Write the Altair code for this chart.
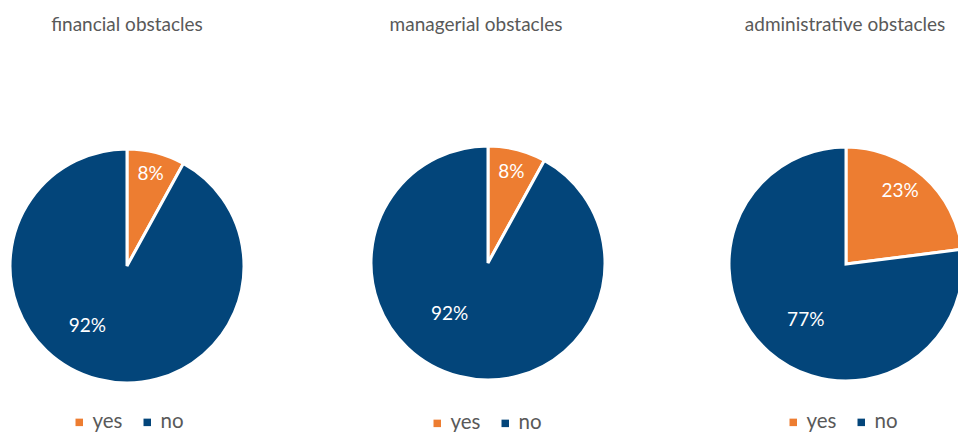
import altair as alt
import pandas as pd

titles = ["financial obstacles", "managerial obstacles", "administrative obstacles"]
answers = ["yes", "no"]
yes_pct = [8, 8, 23]
no_pct = [92, 92, 77]

ORANGE = "#ED7D31"
NAVY = "#03457A"
GRAY = "#595959"
FONT = "Lato"

# layout per panel: width, pie center, title x, legend x/y, label radii and theta offsets
layout = [
    dict(w=254, cx=127, cy=266, tx=127, lx=69, ly=412, ry=95, oy=0.0, rn=72, on=0.33),
    dict(w=468, cx=234, cy=263, tx=222, lx=173, ly=413, ry=94, oy=0.0, rn=64, on=0.39),
    dict(w=236, cx=124, cy=264, tx=123, lx=61, ly=412, ry=91, oy=-0.085, rn=69, on=-0.10),
]


def panel(i):
    L = layout[i]
    df = pd.DataFrame({
        "answer": answers,
        "value": [yes_pct[i], no_pct[i]],
        "order": [0, 1],
        "title": [titles[i], titles[i]],
    })
    df["label"] = df["value"].astype(str) + "%"
    base = alt.Chart(df).encode(
        theta=alt.Theta("value:Q", stack=True),
        order=alt.Order("order:Q"),
    )
    arc = base.mark_arc(outerRadius=117, stroke="white", strokeWidth=3, clip=True).encode(
        x=alt.value(L["cx"]),
        y=alt.value(L["cy"]),
        color=alt.Color(
            "answer:N",
            scale=alt.Scale(domain=answers, range=[ORANGE, NAVY]),
            legend=alt.Legend(
                orient="none", legendX=L["lx"], legendY=L["ly"], direction="horizontal",
                title=None, symbolType="square", symbolSize=56, symbolStrokeWidth=0,
                labelFont=FONT, labelFontSize=20.5, labelColor=GRAY, labelOffset=3,
                columnPadding=14, padding=0,
            ),
        ),
    )
    yes_lbl = base.mark_text(radius=L["ry"], thetaOffset=L["oy"], font=FONT, fontSize=19, color="white").encode(
        x=alt.value(L["cx"]),
        y=alt.value(L["cy"]),
        text=alt.condition("datum.answer == 'yes'", alt.Text("label:N"), alt.value("")),
    )
    no_lbl = base.mark_text(radius=L["rn"], thetaOffset=L["on"], font=FONT, fontSize=19, color="white").encode(
        x=alt.value(L["cx"]),
        y=alt.value(L["cy"]),
        text=alt.condition("datum.answer == 'no'", alt.Text("label:N"), alt.value("")),
    )
    ttl = alt.Chart(df.head(1)).mark_text(font=FONT, fontSize=19, color=GRAY).encode(
        x=alt.value(L["tx"]),
        y=alt.value(25),
        text="title:N",
    )
    return alt.layer(arc, yes_lbl, no_lbl, ttl).properties(width=L["w"], height=432)


chart = alt.hconcat(panel(0), panel(1), panel(2), spacing=0).resolve_scale(
    color="independent"
).properties(padding=0, background="white").configure_view(stroke=None)

chart.save("out.html", embed_options={"renderer": "svg", "actions": False})
